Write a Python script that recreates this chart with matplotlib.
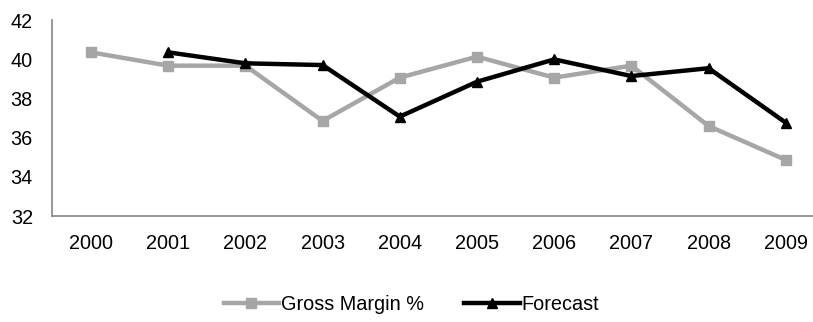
import matplotlib.pyplot as plt
import numpy as np

plt.rcParams['font.family'] = ['Liberation Sans', 'DejaVu Sans']

years = ['2000', '2001', '2002', '2003', '2004', '2005', '2006', '2007', '2008', '2009']
gross_margin = [40.35, 39.67, 39.67, 36.85, 39.06, 40.13, 39.06, 39.67, 36.59, 34.86]
forecast = [np.nan, 40.35, 39.79, 39.70, 37.07, 38.85, 39.99, 39.14, 39.54, 36.76]

fig = plt.figure(figsize=(8.13, 3.22), dpi=100)
ax = fig.add_axes([52.4 / 813, 1 - 216 / 322, 772 / 813, 196 / 322])

x = np.arange(len(years))
ax.plot(x, gross_margin, color='#A6A6A6', lw=3.2, marker='s', ms=7.5,
        label='Gross Margin %', zorder=2)
ax.plot(x, forecast, color='black', lw=3.2, marker='^', ms=7.5,
        label='Forecast', zorder=3)

ax.set_xlim(-0.5, 9.5)
ax.set_ylim(32, 42)
ax.set_yticks([32, 34, 36, 38, 40, 42])
ax.set_xticks(x)
ax.set_xticklabels(years)
ax.tick_params(axis='both', length=0, labelsize=14.3, colors='black')
ax.tick_params(axis='x', pad=13)
ax.tick_params(axis='y', pad=14)

for s in ['top', 'right']:
    ax.spines[s].set_visible(False)
for s in ['left', 'bottom']:
    ax.spines[s].set_color('#868686')
    ax.spines[s].set_linewidth(1.2)

fig.legend(loc='center', bbox_to_anchor=(0.506, 0.053), ncol=2, frameon=False,
           fontsize=14.3, handlelength=2.8, columnspacing=2.0, handletextpad=0.1)

fig.savefig('out.png', dpi=100)
